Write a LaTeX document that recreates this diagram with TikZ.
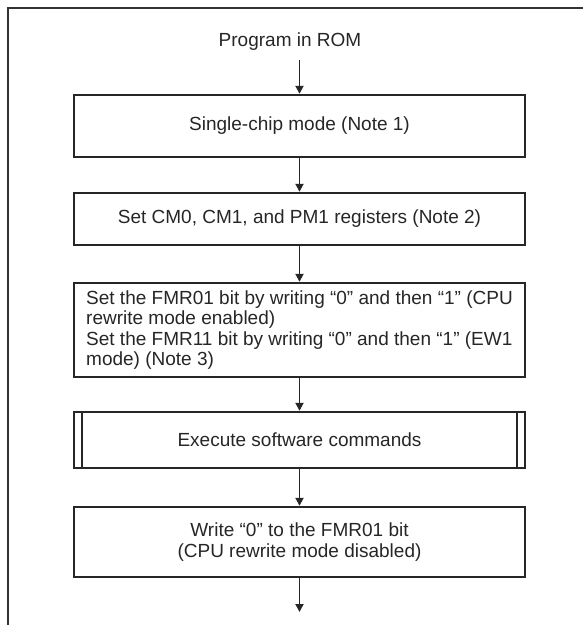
\documentclass[tikz,border=0pt]{standalone}
\usepackage{fontspec}
\setmainfont{Liberation Sans}
\usetikzlibrary{arrows.meta}
\begin{document}
\begin{tikzpicture}[x=1pt,y=-1pt,
  font=\fontsize{19}{20.5}\selectfont,
  box/.style={draw=black!85, line width=2.4pt, minimum width=451pt, inner sep=0pt, text=black!85},
  flow/.style={draw=black!85, line width=1.8pt, -{Triangle[length=8pt,width=8pt]}},
  frameline/.style={draw=black!80, line width=2.4pt}]
\useasboundingbox (0,0) rectangle (583,625);
\draw[frameline] (8,625) -- (8,8) -- (583,8);
\node[text=black!85] (start) at (290,42) {Program in ROM};
\node[box, minimum height=62pt] (b1) at (299.5,126) {Single-chip mode (Note 1)};
\node[box, minimum height=52pt] (b2) at (299.5,219) {Set CM0, CM1, and PM1 registers (Note 2)};
\node[box, minimum height=94pt, align=left] (b3) at (299.5,330) {Set the FMR01 bit by writing “0” and then “1” (CPU\\rewrite mode enabled)\\Set the FMR11 bit by writing “0” and then “1” (EW1\\mode) (Note 3)};
\node[box, minimum height=56pt] (b4) at (299.5,440) {Execute software commands};
\draw[line width=2pt, draw=black!85] ([xshift=9pt]b4.north west) -- ([xshift=9pt]b4.south west);
\draw[line width=2pt, draw=black!85] ([xshift=-9pt]b4.north east) -- ([xshift=-9pt]b4.south east);
\node[box, minimum height=70pt, align=center] (b5) at (299.5,542) {Write “0” to the FMR01 bit\\(CPU rewrite mode disabled)};
\coordinate (endpt) at (299.5,612);
\draw[flow] (299.5,60) -- (b1.north);
\draw[flow] (b1) -- (b2);
\draw[flow] (b2) -- (b3);
\draw[flow] (b3) -- (b4);
\draw[flow] (b4) -- (b5);
\draw[flow] (b5) -- (endpt);
\end{tikzpicture}
\end{document}
